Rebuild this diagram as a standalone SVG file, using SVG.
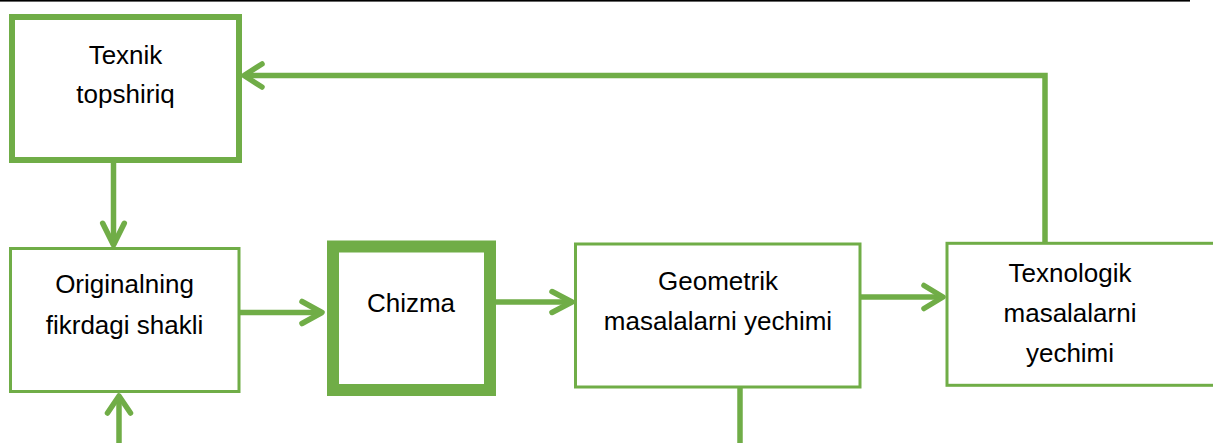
<svg xmlns="http://www.w3.org/2000/svg" width="1213" height="443" viewBox="0 0 1213 443">
<style>
.box{fill:#fff;stroke:#70AD47}
.t{font-family:"Liberation Sans",Arial,sans-serif;font-size:26px;fill:#000;text-anchor:middle}
.c{fill:none;stroke:#70AD47;stroke-width:5.5}
.h{fill:none;stroke:#70AD47;stroke-width:5.5;stroke-linecap:round;stroke-linejoin:round}
</style>
<rect x="0" y="0" width="1190" height="1.6" fill="#000"/>
<g id="connectors">
<line class="c" x1="113.5" y1="163" x2="113.5" y2="245"/>
<polyline class="h" points="102.7,223.3 113.5,245 124.3,223.3"/>
<line class="c" x1="240" y1="312.5" x2="322" y2="312.5"/>
<polyline class="h" points="302,301.5 322,312.5 302,323.5"/>
<line class="c" x1="496" y1="302" x2="572" y2="302"/>
<polyline class="h" points="552,291.5 572,302 552,312.5"/>
<line class="c" x1="860" y1="297" x2="943" y2="297"/>
<polyline class="h" points="924,285.5 943,297 924,308.5"/>
<line class="c" x1="740" y1="387" x2="740" y2="443"/>
<line class="c" x1="119" y1="443" x2="119" y2="396"/>
<polyline class="h" points="107.5,413 119,396 130.5,413"/>
<polyline class="c" points="1045,243 1045,75.5 244,75.5"/>
<polyline class="h" points="262,64 244,75.5 262,87"/>
</g>
<g id="texnik">
<rect class="box" x="12" y="17" width="227" height="143" stroke-width="6"/>
<text class="t" x="125.5" y="64">Texnik</text>
<text class="t" x="125.5" y="103">topshiriq</text>
</g>
<g id="originalning">
<rect class="box" x="10.5" y="248.5" width="228.5" height="143" stroke-width="3"/>
<text class="t" x="124.5" y="293">Originalning</text>
<text class="t" x="124.5" y="334">fikrdagi shakli</text>
</g>
<g id="chizma">
<rect class="box" x="333" y="246.5" width="157" height="143.5" stroke-width="12"/>
<text class="t" x="411" y="312">Chizma</text>
</g>
<g id="geometrik">
<rect class="box" x="575.5" y="244" width="284.5" height="143" stroke-width="3"/>
<text class="t" x="718" y="290">Geometrik</text>
<text class="t" x="718" y="330">masalalarni yechimi</text>
</g>
<g id="texnologik">
<rect class="box" x="947" y="243.3" width="275" height="142" stroke-width="3"/>
<text class="t" x="1070" y="282">Texnologik</text>
<text class="t" x="1070" y="322">masalalarni</text>
<text class="t" x="1070" y="362">yechimi</text>
</g>
</svg>
